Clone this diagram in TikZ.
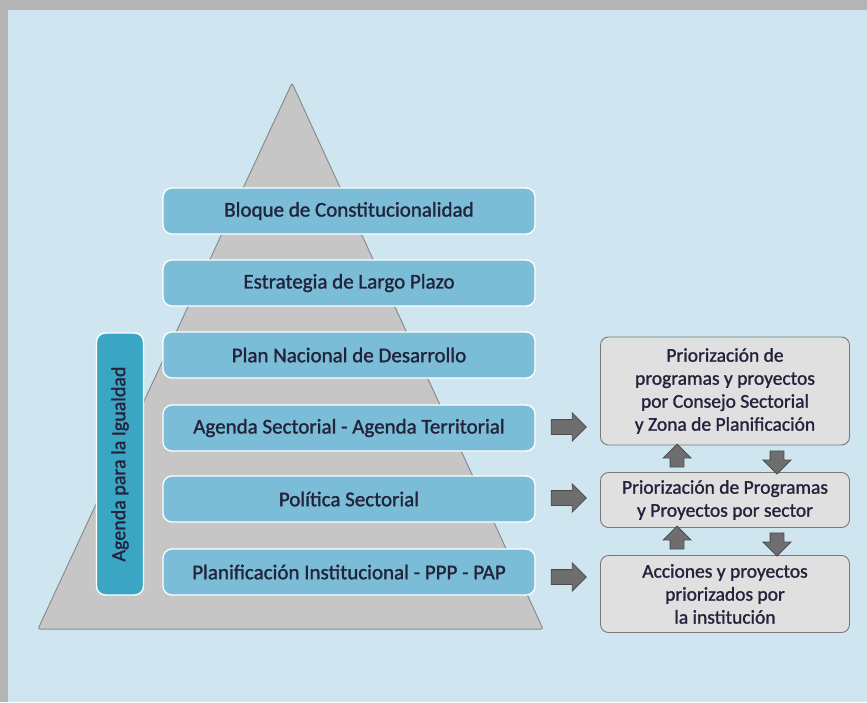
\documentclass[tikz,border=0pt]{standalone}
\usepackage{fontspec}
\setmainfont{Carlito}[BoldFont=Carlito, BoldFeatures={FakeBold=1.3}]
\usetikzlibrary{shapes.arrows}
\pgfdeclarelayer{edgelayer}
\pgfdeclarelayer{nodelayer}
\pgfsetlayers{edgelayer,nodelayer,main}
\definecolor{panel}{RGB}{207,230,241}
\definecolor{frame}{RGB}{180,180,180}
\definecolor{pyramid}{RGB}{198,198,198}
\definecolor{pyramidline}{RGB}{140,140,140}
\definecolor{level}{RGB}{123,189,214}
\definecolor{agenda}{RGB}{58,166,196}
\definecolor{ink}{RGB}{35,35,60}
\definecolor{boxgray}{RGB}{224,224,224}
\definecolor{boxline}{RGB}{120,120,120}
\definecolor{arrowgray}{RGB}{110,110,110}
\tikzstyle{levelbox}=[rectangle, rounded corners=9pt, draw=white, line width=1.3pt, fill=level, minimum width=372pt, minimum height=46pt, inner sep=0pt, text=ink, font=\bfseries\fontsize{21}{25}\selectfont]
\tikzstyle{agendabox}=[rectangle, rounded corners=9pt, draw=white, line width=1.3pt, fill=agenda, minimum width=262pt, minimum height=47pt, inner sep=0pt, text=ink, font=\bfseries\fontsize{20}{24}\selectfont]
\tikzstyle{prio}=[rectangle, rounded corners=8pt, draw=boxline, line width=0.9pt, fill=boxgray, minimum width=249pt, inner sep=0pt, align=center, text=ink, font=\bfseries\fontsize{19.5}{23}\selectfont]
\tikzstyle{rarrow}=[single arrow, draw=black!70, fill=arrowgray, line width=0.8pt, minimum height=35pt, minimum width=0pt, inner sep=7pt, single arrow head extend=6.5pt]
\tikzstyle{varrow}=[single arrow, draw=black!70, fill=arrowgray, line width=0.8pt, minimum height=23pt, minimum width=0pt, inner sep=6.5pt, single arrow head extend=7pt]

\begin{document}
\begin{tikzpicture}[x=1pt, y=-1pt]
    \useasboundingbox (0,0) rectangle (867,702);
    \begin{pgfonlayer}{edgelayer}
	\fill [frame] (0,0) rectangle (867,702);
	\fill [panel] (8,10) rectangle (867,702);
	\draw [draw=pyramidline, fill=pyramid, line width=1pt, rounded corners=2pt] (292,83) -- (543,629) -- (38,629) -- cycle;
    \end{pgfonlayer}
    \begin{pgfonlayer}{nodelayer}
	% pyramid levels
	\node [levelbox] (0) at (349,211) {Bloque de Constitucionalidad};
	\node [levelbox] (1) at (349,283) {Estrategia de Largo Plazo};
	\node [levelbox] (2) at (349,355) {Plan Nacional de Desarrollo};
	\node [levelbox] (3) at (349,428) {Agenda Sectorial - Agenda Territorial};
	\node [levelbox] (4) at (349,499) {Política Sectorial};
	\node [levelbox] (5) at (349,572) {Planificación Institucional - PPP - PAP};
	\node [agendabox, rotate=90] (6) at (120,464) {Agenda para la Igualdad};
	% priorization boxes
	\node [prio, minimum height=108pt] (7) at (725,391) {Priorización de\\programas y proyectos\\por Consejo Sectorial\\y Zona de Planificación};
	\node [prio, minimum height=55pt] (8) at (725,500) {Priorización de Programas\\y Proyectos por sector};
	\node [prio, minimum height=77pt] (9) at (725,594) {Acciones y proyectos\\priorizados por\\la institución};
	% block arrows
	\node [rarrow] (10) at (565,427) {};
	\node [rarrow] (11) at (565,498) {};
	\node [rarrow] (12) at (565,577) {};
	\node [varrow, shape border rotate=90] (13) at (677,459) {};
	\node [varrow, shape border rotate=270] (14) at (777,459) {};
	\node [varrow, shape border rotate=90] (15) at (677,541) {};
	\node [varrow, shape border rotate=270] (16) at (777,541) {};
    \end{pgfonlayer}
\end{tikzpicture}
\end{document}
